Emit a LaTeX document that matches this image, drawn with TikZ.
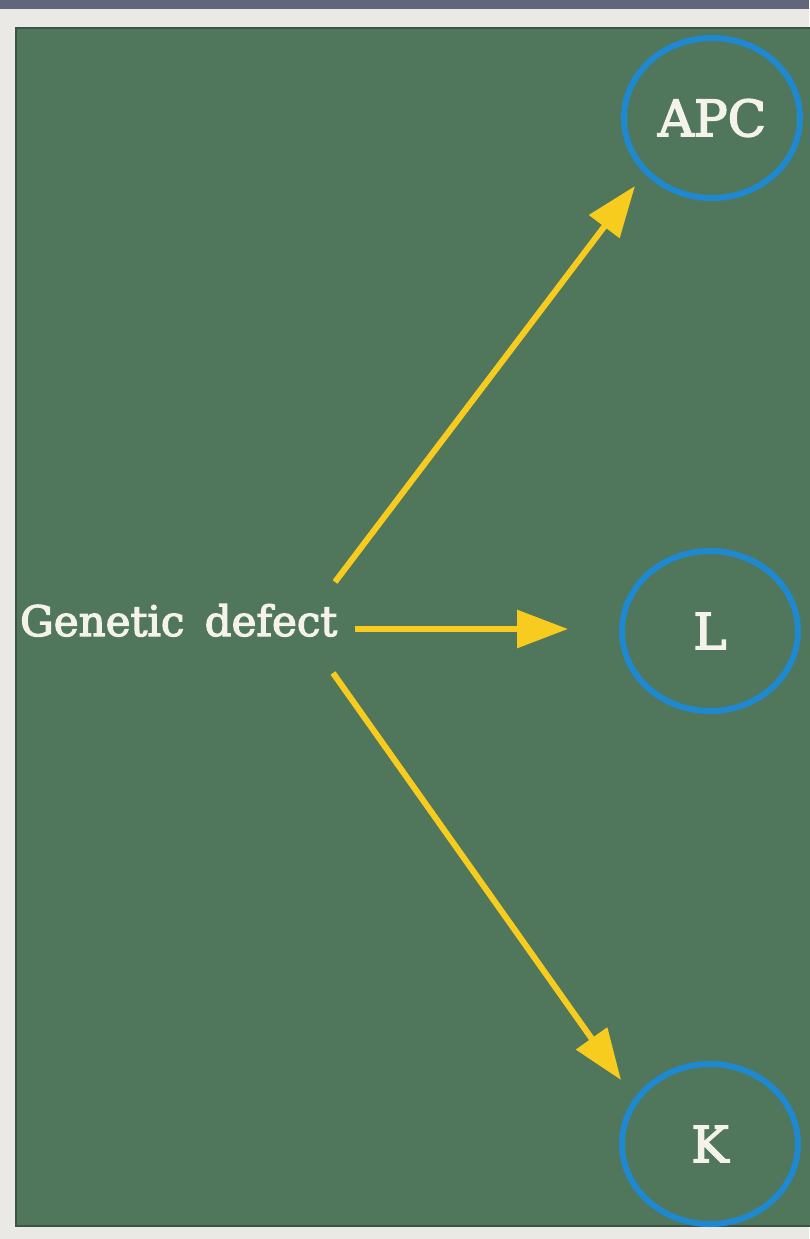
\documentclass[tikz,border=0pt]{standalone}
\usepackage{fontspec}
\setmainfont[FakeBold=3]{DejaVu Serif}
\usetikzlibrary{arrows.meta,shapes.geometric}
\definecolor{board}{RGB}{80,119,92}
\definecolor{boardedge}{RGB}{60,84,70}
\definecolor{frame}{RGB}{235,233,229}
\definecolor{band}{RGB}{98,102,125}
\definecolor{ring}{RGB}{30,136,208}
\definecolor{arrowyellow}{RGB}{247,204,30}
\definecolor{chalk}{RGB}{245,242,235}
\tikzset{
  ringnode/.style={ellipse, draw=ring, line width=6pt, minimum width=176pt, minimum height=160pt, inner sep=0pt, text=chalk, font=\fontsize{50}{56}\selectfont},
  yarrow/.style={draw=arrowyellow, line width=6pt, -{Triangle[length=51pt,width=37pt]}, arrowyellow},
  labeltext/.style={text=chalk, inner sep=0pt, font=\fontsize{42}{50}\selectfont}
}
\begin{document}
\begin{tikzpicture}[x=1pt,y=-1pt]
\useasboundingbox (0,0) rectangle (809,1239);
\fill[frame] (0,0) rectangle (809,1239);
\fill[band] (0,0) rectangle (809,9);
\fill[board] (16,28) rectangle (812,1226);
\draw[boardedge, line width=1.5pt] (812,28) -- (16,28) -- (16,1226) -- (812,1226);
\node[ringnode] (apc) at (712,118) {APC};
\node[ringnode] (l) at (710,631) {L};
\node[ringnode] (k) at (710,1144) {K};
\node[labeltext, anchor=base west] (gd) at (20,636) {Genetic\, defect};
\coordinate (s1) at (335,582);
\coordinate (t1) at (635,186);
\coordinate (s2) at (355,629);
\coordinate (t2) at (568,629);
\coordinate (s3) at (333,673);
\coordinate (t3) at (621,1080);
\draw[yarrow] (s1) -- (t1);
\draw[yarrow] (s2) -- (t2);
\draw[yarrow] (s3) -- (t3);
\end{tikzpicture}
\end{document}
